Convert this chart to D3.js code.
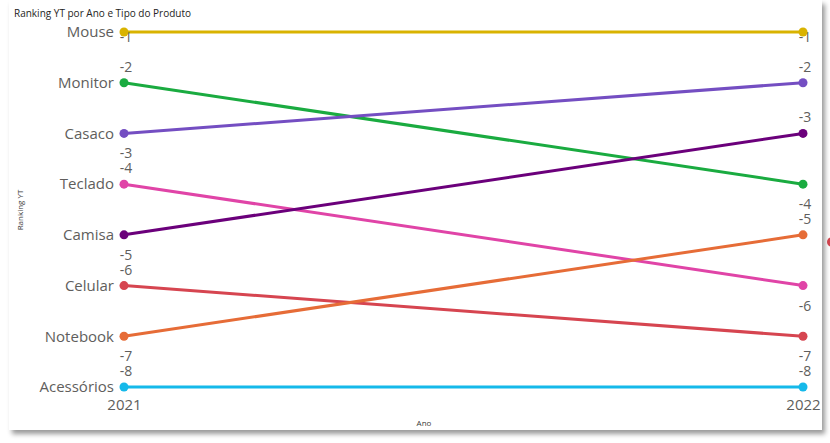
<!DOCTYPE html>
<html>
<head>
<meta charset="utf-8">
<script src="https://cdn.jsdelivr.net/npm/d3@7"></script>
<style>
  body { margin: 0; background: #ffffff; }
  svg { display: block; font-family: "Segoe UI", "Open Sans", sans-serif; }
</style>
</head>
<body>
<div id="chart"></div>
<script>
// Anos (eixo X)
const years = ["2021", "2022"];

// Produtos na ordem do ranking de 2021
const products = ["Mouse", "Monitor", "Casaco", "Teclado", "Camisa", "Celular", "Notebook", "Acessórios"];

// Ranking por ano
const rank2021 = [1, 2, 3, 4, 5, 6, 7, 8];
const rank2022 = [1, 4, 2, 6, 3, 7, 5, 8];

// Onde o Power BI colocou o rótulo de dados
const labelPos2021 = ["center", "above", "below", "above", "below", "above", "below", "above"];
const labelPos2022 = ["center", "below", "above", "below", "above", "below", "above", "above"];

const colors = ["#D9B300", "#1AAB40", "#744EC2", "#E044A7", "#6B007B", "#D64550", "#E66C37", "#15B9EA"];

const width = 830, height = 443;
const margin = { top: 32, right: 27, bottom: 56, left: 124 };

const svg = d3.select("#chart").append("svg")
    .attr("width", width)
    .attr("height", height);

// Sombra do cartão
const defs = svg.append("defs");
const filter = defs.append("filter").attr("id", "shadow")
    .attr("x", "-5%").attr("y", "-5%").attr("width", "110%").attr("height", "115%");
filter.append("feDropShadow")
    .attr("dx", 3).attr("dy", 4).attr("stdDeviation", 2.5)
    .attr("flood-color", "#000").attr("flood-opacity", 0.4);

// Pedacinho de outro visual na borda direita
svg.append("circle")
    .attr("cx", 832).attr("cy", 242).attr("r", 5)
    .attr("fill", "#D64550");

svg.append("rect")
    .attr("x", 9).attr("y", 0)
    .attr("width", 813).attr("height", 430)
    .attr("fill", "#ffffff")
    .attr("filter", "url(#shadow)");

// Título
svg.append("text")
    .attr("x", 14).attr("y", 17)
    .attr("font-size", "10px")
    .attr("fill", "#252423")
    .text("Ranking YT por Ano e Tipo do Produto");

const x = d3.scalePoint()
    .domain(years)
    .range([margin.left, width - margin.right]);

const y = d3.scaleLinear()
    .domain([1, 8])
    .range([margin.top, height - margin.bottom]);

// Eixo Y com nomes dos produtos (posição de 2021)
const yAxis = d3.axisLeft(y)
    .tickValues(rank2021)
    .tickSize(0)
    .tickPadding(10)
    .tickFormat((d, i) => products[i]);

const gy = svg.append("g")
    .attr("transform", `translate(${margin.left},0)`)
    .call(yAxis);
gy.select(".domain").remove();
gy.selectAll("text")
    .attr("font-size", "15px")
    .attr("fill", "#605E5C")
    .attr("font-family", "\"Segoe UI\", \"Open Sans\", sans-serif");

// Eixo X
const xAxis = d3.axisBottom(x).tickSize(0).tickPadding(12);
const gx = svg.append("g")
    .attr("transform", `translate(0,${y(8)})`)
    .call(xAxis);
gx.select(".domain").remove();
gx.selectAll("text")
    .attr("font-size", "15px")
    .attr("fill", "#605E5C")
    .attr("font-family", "\"Segoe UI\", \"Open Sans\", sans-serif");

// Títulos dos eixos
svg.append("text")
    .attr("x", 424).attr("y", 426)
    .attr("text-anchor", "middle")
    .attr("font-size", "8px")
    .attr("fill", "#3B3A39")
    .text("Ano");

svg.append("text")
    .attr("transform", "translate(23,210) rotate(-90)")
    .attr("text-anchor", "middle")
    .attr("font-size", "8px")
    .attr("fill", "#3B3A39")
    .text("Ranking YT");

// Dados no formato de séries
const series = products.map((p, i) => ({
    name: p,
    color: colors[i],
    values: [
        { year: years[0], rank: rank2021[i], pos: labelPos2021[i] },
        { year: years[1], rank: rank2022[i], pos: labelPos2022[i] }
    ]
}));

const line = d3.line()
    .x(d => x(d.year))
    .y(d => y(d.rank));

svg.selectAll("path.serie")
    .data(series)
    .enter()
    .append("path")
    .attr("class", "serie")
    .attr("d", d => line(d.values))
    .attr("fill", "none")
    .attr("stroke", d => d.color)
    .attr("stroke-width", 3);

// Rótulos de dados
const offsets = { above: -11, below: 25, center: 10 };
svg.selectAll("g.labels")
    .data(series)
    .enter()
    .append("g")
    .attr("class", "labels")
    .selectAll("text")
    .data(d => d.values)
    .enter()
    .append("text")
    .attr("x", d => x(d.year) + 2)
    .attr("y", d => y(d.rank) + offsets[d.pos])
    .attr("text-anchor", "middle")
    .attr("font-size", "14px")
    .attr("fill", "#605E5C")
    .text(d => "-" + d.rank);

// Pontos
svg.selectAll("g.dots")
    .data(series)
    .enter()
    .append("g")
    .attr("class", "dots")
    .attr("fill", d => d.color)
    .selectAll("circle")
    .data(d => d.values)
    .enter()
    .append("circle")
    .attr("cx", d => x(d.year))
    .attr("cy", d => y(d.rank))
    .attr("r", 4.5);
</script>
</body>
</html>
